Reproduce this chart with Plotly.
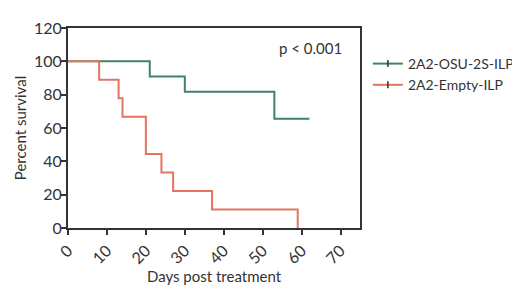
import plotly.graph_objects as go

# Data
osu_days = [0, 21, 30, 53, 62]
osu_surv = [100, 90.9, 81.8, 65.5, 65.5]
empty_days = [0, 8, 13, 14, 20, 24, 27, 37, 59]
empty_surv = [100, 88.9, 77.8, 66.7, 44.4, 33.3, 22.2, 11.1, 0]
series_names = ["2A2-OSU-2S-ILP", "2A2-Empty-ILP"]
x_ticks = [0, 10, 20, 30, 40, 50, 60, 70]
y_ticks = [0, 20, 40, 60, 80, 100, 120]

GREEN = "#3f8462"
RED = "#e27462"
TXT = "#333333"
FONT = "Lato"

fig = go.Figure()
fig.add_trace(go.Scatter(x=osu_days, y=osu_surv, mode="lines", line=dict(color=GREEN, width=2, shape="hv"),
                         showlegend=False, cliponaxis=False))
fig.add_trace(go.Scatter(x=empty_days, y=empty_surv, mode="lines", line=dict(color=RED, width=2, shape="hv"),
                         showlegend=False, cliponaxis=False))
# legend entries
for name, col in zip(series_names, [GREEN, RED]):
    fig.add_trace(go.Scatter(x=[None], y=[None], mode="lines+markers", name=name,
                             line=dict(color=col, width=2),
                             marker=dict(symbol="line-ns-open", size=5, color="#333", line=dict(width=1.5, color="#333"))))

fig.add_annotation(x=71, y=108, xref="x", yref="y", text="p < 0.001", showarrow=False,
                   xanchor="right", yanchor="middle", font=dict(family=FONT, size=15, color=TXT))

axis_common = dict(showline=True, linecolor=TXT, linewidth=2, mirror=True, ticks="outside",
                   ticklen=5, tickwidth=2, tickcolor=TXT, showgrid=False, zeroline=False,
                   automargin=False, tickfont=dict(family=FONT, size=16, color=TXT))
fig.update_xaxes(range=[0, 75], tickvals=x_ticks, tickangle=-45,
                 title=dict(text="Days post treatment", font=dict(family=FONT, size=15, color=TXT), standoff=0),
                 **axis_common)
fig.update_yaxes(range=[0, 120], tickvals=y_ticks, ticklabelstandoff=-4,
                 title=dict(text="Percent survival", font=dict(family=FONT, size=15, color=TXT), standoff=4),
                 **axis_common)

fig.update_layout(width=512, height=286, margin=dict(l=60, r=160, t=20, b=66, autoexpand=False),
                  plot_bgcolor="white", paper_bgcolor="white",
                  legend=dict(x=1.027, y=0.9, xanchor="left", yanchor="top",
                              font=dict(family=FONT, size=14, color=TXT), tracegroupgap=0,
                              itemwidth=30, bgcolor="rgba(0,0,0,0)"))
fig.write_html("out.html")
